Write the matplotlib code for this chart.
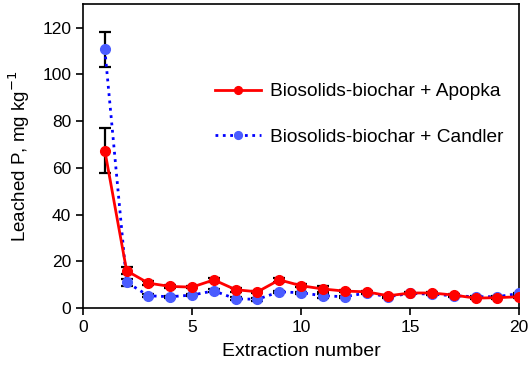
import matplotlib
matplotlib.use("Agg")
import matplotlib.pyplot as plt

plt.rcParams['font.family'] = ['Liberation Sans', 'DejaVu Sans']

extraction = list(range(1, 21))
apopka = [67.4, 16.0, 10.7, 9.3, 9.0, 12.1, 7.9, 7.0, 12.1, 9.6,
          8.2, 7.3, 7.0, 5.3, 6.5, 6.5, 5.6, 4.3, 4.5, 4.9]
apopka_err = [9.6, 1.5, 0.8, 0.6, 0.5, 0.8, 0.8, 0.5, 0.8, 0.6,
              1.2, 0.5, 0.4, 0.4, 0.4, 0.5, 0.4, 0.5, 0.4, 0.4]
candler = [110.7, 11.1, 5.3, 4.9, 5.6, 7.4, 4.0, 3.8, 7.0, 6.6,
           5.3, 4.9, 6.5, 4.9, 6.3, 6.0, 5.3, 4.9, 4.9, 6.3]
candler_err = [7.4, 1.5, 0.6, 0.5, 0.5, 0.6, 0.6, 0.6, 0.5, 0.5,
               0.8, 0.4, 0.4, 0.4, 0.4, 0.4, 0.4, 0.4, 0.4, 0.4]

fig = plt.figure(figsize=(5.32, 3.74), dpi=100)
ax = fig.add_axes([0.156, 0.176, 0.820, 0.813])

ax.errorbar(extraction, apopka, yerr=apopka_err, fmt='none', ecolor='black',
            elinewidth=1.6, capsize=4, capthick=1.6, zorder=2)
ax.errorbar(extraction, candler, yerr=candler_err, fmt='none', ecolor='black',
            elinewidth=1.6, capsize=4, capthick=1.6, zorder=2)
ax.plot(extraction, candler, color='#0000ff', linestyle=':', linewidth=2,
        marker='o', markersize=7, markerfacecolor='#4a5cff', markeredgecolor='#4a5cff',
        label='Biosolids-biochar + Candler', zorder=3)
ax.plot(extraction, apopka, color='#ff0000', linestyle='-', linewidth=2,
        marker='o', markersize=7, markerfacecolor='#ff0000', markeredgecolor='#ff0000',
        label='Biosolids-biochar + Apopka', zorder=4)

ax.set_xlim(0, 20)
ax.set_ylim(0, 130)
ax.set_xticks([0, 5, 10, 15, 20])
ax.set_yticks([0, 20, 40, 60, 80, 100, 120])
ax.tick_params(direction='out', length=5, width=1.2, labelsize=12.5, colors='black')
for s in ax.spines.values():
    s.set_linewidth(1.2)

ax.set_xlabel('Extraction number', fontsize=14, labelpad=6)
ax.set_ylabel('Leached P, mg kg$^{\\mathsf{-1}}$', fontsize=13.5, labelpad=7)

h, l = ax.get_legend_handles_labels()
ax.legend(h[::-1], l[::-1], loc='center left', bbox_to_anchor=(0.262, 0.6375),
          frameon=False, fontsize=13.8, handlelength=2.4, handletextpad=0.5,
          labelspacing=1.45, markerscale=0.8)

fig.savefig('out.png', dpi=100)
